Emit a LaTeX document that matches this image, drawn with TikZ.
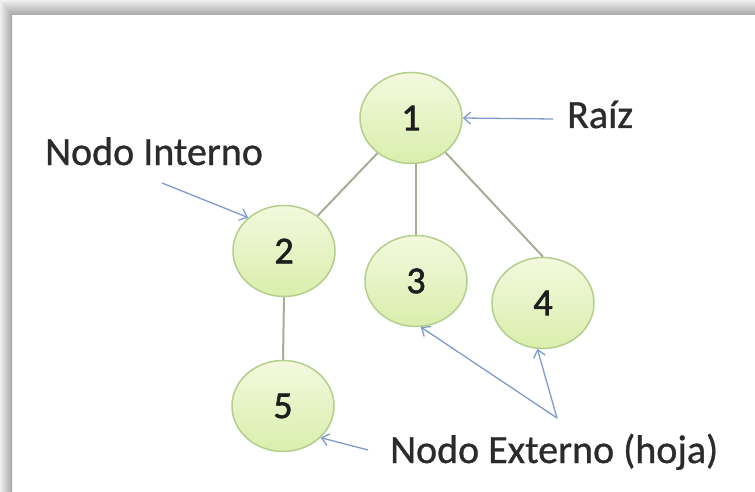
\documentclass[tikz,border=0pt]{standalone}
\usepackage{fontspec}
\setmainfont{Carlito}
\newfontfamily\digitfont{Carlito}[FakeBold=1.6]
\newfontfamily\labelfont{Carlito}[FakeBold=0.8]
\usetikzlibrary{arrows.meta,shapes.geometric}

\definecolor{nodeline}{HTML}{B4CE8E}
\definecolor{nodetop}{HTML}{F3F9DE}
\definecolor{nodebot}{HTML}{DAEEAC}
\definecolor{branchcol}{HTML}{A7AE98}
\definecolor{arrowcol}{HTML}{7E9CCF}
\definecolor{labelcol}{HTML}{2B2B2B}
\definecolor{digitcol}{HTML}{1E1E1E}
\definecolor{framelight}{HTML}{F0F0F0}
\definecolor{framedark}{HTML}{A6A6A6}

\begin{document}
\begin{tikzpicture}[x=1pt,y=-1pt,
  treenode/.style={ellipse, draw=nodeline, line width=1.5pt,
    top color=nodetop, bottom color=nodebot,
    minimum width=102pt, minimum height=91pt, inner sep=0pt,
    font=\digitfont\fontsize{38}{38}\selectfont, text=digitcol},
  branch/.style={draw=branchcol, line width=2pt},
  pointer/.style={draw=arrowcol, line width=1.3pt,
    -{Straight Barb[length=7pt,width=12pt]}},
  caption/.style={anchor=base west, inner sep=0pt,
    font=\labelfont\fontsize{40}{40}\selectfont, text=labelcol}]

\useasboundingbox (0,0) rectangle (755,492);

% white sheet with its shaded top and left edges
\fill[white] (0,0) rectangle (755,492);
\shade[left color=framelight, right color=framedark] (0,0) rectangle (12,492);
\shade[top color=framelight, bottom color=framedark]
  (0,0) -- (755,0) -- (755,15) -- (12,15) -- cycle;

% tree nodes
\node[treenode] (n1) at (411,118) {1};
\node[treenode] (n2) at (284,251) {2};
\node[treenode] (n3) at (416,281) {3};
\node[treenode] (n4) at (543,303) {4};
\node[treenode] (n5) at (283,406) {5};

% branches
\draw[branch] (n1) -- (n2);
\draw[branch] (n3.north |- n1.south) -- (n3.north);
\draw[branch] (n1.-45) -- (n4.north);
\draw[branch] (n2.south) -- (n5.north);

% captions
\node[caption] (raiz) at (567,128) {Raíz};
\node[caption] (interno) at (45,165) {Nodo Interno};
\node[caption] (externo) at (390,463) {Nodo Externo (hoja)};

% pointer tails
\coordinate (raiztail) at (553,119);
\coordinate (interntail) at (162,183);
\coordinate (leafapex) at (557,418);
\coordinate (leaftail) at (368,450);

% pointers
\draw[pointer] (raiztail) -- (n1.east);
\draw[pointer] (interntail) -- (n2.137);
\draw[pointer] (leafapex) -- (n3.-84);
\draw[pointer] (leafapex) -- (n4.-97);
\draw[pointer] (leaftail) -- (n5.-40);
\end{tikzpicture}
\end{document}
